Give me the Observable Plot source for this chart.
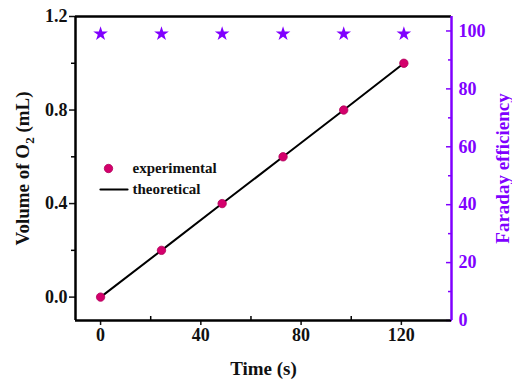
<!DOCTYPE html>
<html><head><meta charset="utf-8">
<script src="https://cdn.jsdelivr.net/npm/d3@7"></script>
<script src="https://cdn.jsdelivr.net/npm/@observablehq/plot@0.6"></script>
<style>
html,body{margin:0;padding:0;background:#fff;}
svg, svg text{font-family:"Liberation Serif","Times New Roman",serif !important;font-weight:bold !important;}
</style></head>
<body><div id="chart"></div>
<script>
const times = [0, 24.3, 48.5, 72.8, 97, 121];
const volumes = [0, 0.2, 0.4, 0.6, 0.8, 1.0];
const faraday = [99, 99, 99, 99, 99, 99];
const xTicks = [0, 40, 80, 120];
const xMinor = [20, 60, 100];
const yTicks = [0, 0.4, 0.8, 1.2];
const yMinor = [0.2, 0.6, 1.0];
const rTicks = [0, 20, 40, 60, 80, 100];
const rMinor = [10, 30, 50, 70, 90];
const xDomain = [-10, 140];
const yDomain = [-0.1, 1.2];
const rDomain = [0, 105];

const purple = "#8000ff";
const magenta = "#d4006c";
const r2y = r => yDomain[0] + (r - rDomain[0]) * (yDomain[1] - yDomain[0]) / (rDomain[1] - rDomain[0]);
const y2r = y => (y - yDomain[0]) * (rDomain[1] - rDomain[0]) / (yDomain[1] - yDomain[0]) + rDomain[0];

const pts = times.map((t, i) => ({t, v: volumes[i], f: r2y(faraday[i])}));
const lineShape = {draw(ctx, l) { ctx.moveTo(0, 0); ctx.lineTo(0, -l); }};

const chart = Plot.plot({
  width: 512, height: 385,
  marginLeft: 75, marginRight: 61, marginTop: 16, marginBottom: 65,
  style: {background: "white"},
  x: {domain: xDomain},
  y: {domain: yDomain},
  marks: [
    Plot.axisX(xTicks, {tickSize: 5, tickPadding: 3, fontSize: 18, label: null, color: "#111", strokeWidth: 1.5}),
    Plot.axisX(xMinor, {tickSize: -4, text: null, label: null, strokeWidth: 1.5}),
    Plot.axisY(yTicks, {tickSize: 6, tickPadding: 2, fontSize: 18, tickFormat: d3.format(".1f"), label: null, color: "#111", strokeWidth: 1.5}),
    Plot.axisY(yMinor, {tickSize: 4, text: null, label: null, strokeWidth: 1.5}),
    Plot.axisY(rTicks.map(r2y), {anchor: "right", tickSize: -6, tickPadding: 13, fontSize: 18, tickFormat: d => Math.round(y2r(d)), label: null, color: purple, strokeWidth: 1.5}),
    Plot.axisY(rMinor.map(r2y), {anchor: "right", tickSize: -4, text: null, label: null, color: purple, strokeWidth: 1.5}),
    Plot.ruleY([yDomain[0], yDomain[1]], {stroke: "#000", strokeWidth: 2.5}),
    Plot.ruleX([xDomain[0]], {stroke: "#000", strokeWidth: 2.5}),
    Plot.ruleX([xDomain[1]], {stroke: purple, strokeWidth: 2.5}),
    Plot.line(pts, {x: "t", y: "v", stroke: "#000", strokeWidth: 2}),
    Plot.dot(pts, {x: "t", y: "v", r: 4.2, fill: magenta, stroke: "#b0005a", strokeWidth: 0.8}),
    Plot.dot(pts, {x: "t", y: "f", symbol: "star", r: 4.6, fill: purple, stroke: "none"}),
    // legend
    Plot.dot([0], {frameAnchor: "top-left", dx: 33, dy: 152, r: 4.2, fill: magenta, stroke: "#b0005a", strokeWidth: 0.8}),
    Plot.text(["experimental"], {frameAnchor: "top-left", dx: 57, dy: 152, textAnchor: "start", lineAnchor: "middle", fontSize: 15, fill: "#111"}),
    Plot.vector([0], {frameAnchor: "top-left", dx: 25, dy: 173, length: 27, rotate: 90, anchor: "start", shape: lineShape, stroke: "#000", strokeWidth: 2.2}),
    Plot.text(["theoretical"], {frameAnchor: "top-left", dx: 57, dy: 173, textAnchor: "start", lineAnchor: "middle", fontSize: 15, fill: "#111"}),
    // axis titles
    Plot.text(["Time (s)"], {frameAnchor: "bottom", dy: 54, textAnchor: "middle", fontSize: 19, fill: "#111"}),
    Plot.text(["Volume of O2 (mL)"], {frameAnchor: "left", dx: -53, textAnchor: "middle", lineAnchor: "middle", rotate: -90, fontSize: 19, fill: "#111", className: "ytitle"}),
    Plot.text(["Faraday efficiency"], {frameAnchor: "right", dx: 51, textAnchor: "middle", lineAnchor: "middle", rotate: -90, fontSize: 19, fill: purple})
  ]
});
document.getElementById("chart").appendChild(chart);

const svg = d3.select(chart);
svg.selectAll("g.ytitle text").each(function() {
  const t = d3.select(this);
  t.text(null);
  t.append("tspan").text("Volume of O");
  t.append("tspan").attr("font-size", 13).attr("dy", 5).text("2");
  t.append("tspan").attr("dy", -5).text(" (mL)");
});
</script>
</body></html>
